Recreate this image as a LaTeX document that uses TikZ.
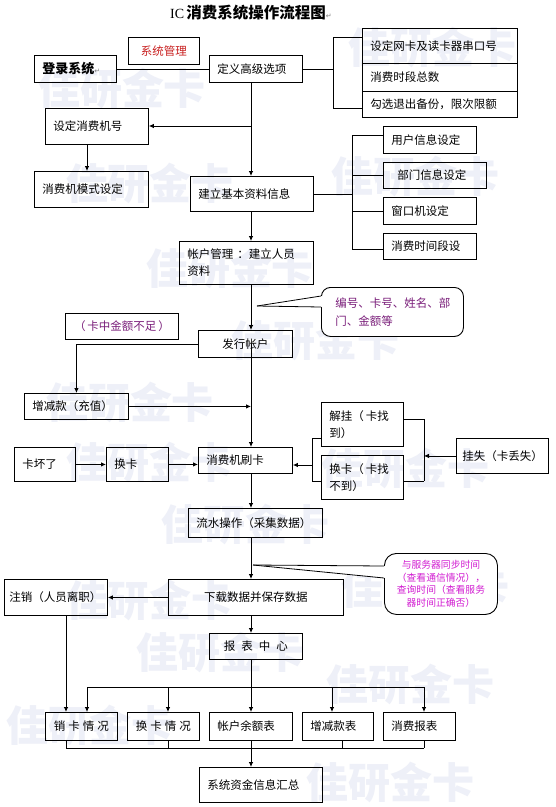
\documentclass[tikz,border=0pt]{standalone}
\usepackage{fontspec}
\setmainfont{Noto Sans CJK SC}
\newfontfamily\tnr{Liberation Serif}
\newfontfamily\djv{DejaVu Sans}
\usetikzlibrary{arrows.meta,calc}
\definecolor{wmc}{HTML}{EEF0F8}
\definecolor{purp}{HTML}{7A1E7A}
\definecolor{mag}{HTML}{D21ED2}
\definecolor{redt}{HTML}{C81E1E}
\tikzset{
 bx/.style={draw, line width=0.9pt, rectangle, inner ysep=0pt, anchor=north west, font=\fontsize{11.5}{17}\selectfont},
 arr/.style={line width=0.8pt, -{Latex[length=5pt,width=4.5pt]}},
 ln/.style={line width=0.8pt},
 wm/.style={text=wmc, font=\fontsize{42}{44}\selectfont\bfseries},
 callout/.style={draw, line width=0.9pt, fill=white, anchor=north west, inner ysep=0pt},
}
\newcommand\mybox[7][left]{%
 \pgfmathsetmacro\bw{#5-#3-16}\pgfmathsetmacro\bh{#6-#4}%
 \node[bx, align=#1, inner xsep=8pt, text width=\bw pt, minimum height=\bh pt] (#2) at (#3,#4) {#7};}
\begin{document}
\begin{tikzpicture}[x=1pt,y=-1pt]
\useasboundingbox[fill=white] (0,0) rectangle (555,807);
% watermarks
\node[wm] (wm1) at (122,88) {佳研金卡};
\node[wm] (wm2) at (432,47) {佳研金卡};
\node[wm] (wm3) at (150,183) {佳研金卡};
\node[wm] (wm4) at (415,176) {佳研金卡};
\node[wm] (wm5) at (230,268) {佳研金卡};
\node[wm] (wm6) at (315,340) {佳研金卡};
\node[wm] (wm7) at (130,402) {佳研金卡};
\node[wm] (wm8) at (150,462) {佳研金卡};
\node[wm] (wm9) at (405,468) {佳研金卡};
\node[wm] (wm10) at (245,524) {佳研金卡};
\node[wm] (wm11) at (150,600) {佳研金卡};
\node[wm] (wm12) at (425,588) {佳研金卡};
\node[wm] (wm13) at (220,652) {佳研金卡};
\node[wm] (wm14) at (410,684) {佳研金卡};
\node[wm] (wm15) at (90,725) {佳研金卡};
\node[wm] (wm16) at (390,782) {佳研金卡};
% title
\node[anchor=west, inner sep=0] (title) at (170,13) {{\tnr\fontsize{14}{16}\selectfont IC} {\fontsize{15.5}{17}\selectfont\bfseries 消费系统操作流程图}{\djv\fontsize{7}{8}\selectfont\color{gray}↵}};
% boxes
\mybox[center]{xtgl}{128}{37}{199}{64}{\color{redt}系统管理}
\mybox{dl}{34}{55}{116}{82}{\fontsize{13}{15}\selectfont\bfseries 登录系统{\djv\fontsize{7}{8}\selectfont\mdseries\color{gray}↵}}
\mybox{dy}{209}{55}{302}{82}{定义高级选项}
\mybox{wk}{362}{28}{517}{63}{设定网卡及读卡器串口号}
\mybox{sd}{362}{63}{517}{91}{消费时段总数}
\mybox{gx}{362}{91}{517}{117}{勾选退出备份，限次限额}
\mybox{jh}{45}{108}{148}{144}{设定消费机号}
\mybox{ms}{34}{171}{148}{207}{消费机模式设定}
\mybox{jl}{190}{176}{313}{211}{建立基本资料信息}
\mybox{zh}{179}{241}{313}{284}{帐户管理 ：建立人员\\资料}
\mybox{yh}{383}{126}{476}{153}{用户信息设定}
\mybox{bm}{383}{162}{486}{188}{\hspace*{6pt}部门信息设定}
\mybox{ck}{383}{197}{476}{224}{窗口机设定}
\mybox{sj}{383}{233}{476}{259}{消费时间段设}
\mybox[center]{bz}{65}{313}{178}{339}{\color{purp}\mbox{（\,卡中金额不足\,）}}
\mybox[center]{fx}{198}{330}{292}{357}{发行帐户}
\mybox{zj}{24}{393}{128}{419}{增减款（充值）}
\mybox{kh}{14}{447}{75}{481}{卡坏了}
\mybox{hk}{106}{447}{168}{481}{换卡}
\mybox{sk}{198}{447}{292}{473}{消费机刷卡}
\mybox{ls}{188}{508}{322}{537}{流水操作（采集数据）}
\mybox{jg}{321}{402}{403}{446}{\mbox{解挂（\,卡找}\\到）}
\mybox{hkb}{321}{455}{403}{499}{\mbox{换卡（\,卡找}\\不到）}
\mybox{gs}{456}{438}{548}{473}{\hspace*{-2pt}挂失（卡丢失）}
\mybox[center]{xz}{168}{579}{343}{615}{下载数据并保存数据}
\mybox{zx}{4}{579}{107}{615}{\hspace*{-3pt}注销（人员离职）}
\mybox[center]{bb}{209}{633}{302}{659}{报\hspace{6pt}表\hspace{6pt}中\hspace{6pt}心}
\mybox[center]{xk}{45}{712}{117}{740}{销\hspace{3pt}卡\hspace{3pt}情\hspace{3pt}况}
\mybox[center]{hkq}{127}{712}{199}{740}{换\hspace{3pt}卡\hspace{3pt}情\hspace{3pt}况}
\mybox{ye}{209}{712}{292}{740}{帐户余额表}
\mybox{zjb}{302}{712}{373}{740}{增减款表}
\mybox{xfb}{383}{712}{455}{740}{消费报表}
\mybox{hz}{199}{767}{322}{802}{系统资金信息汇总}
% callouts
\node[callout, rounded corners=9pt, align=left, inner xsep=14pt, text width=114pt, minimum height=49pt, text=purp, font=\fontsize{11.5}{18}\selectfont] (cb1) at (321,287) {编号、卡号、姓名、部\\门、金额等};
\coordinate (t1) at (257,306);
\coordinate (c1a) at (321,296);
\coordinate (c1b) at (321,307);
\fill[white] (t1) -- ($(c1a)+(1.2,0)$) -- ($(c1b)+(1.2,0)$) -- cycle;
\draw[ln] (t1) -- (c1a);
\draw[ln] (t1) -- (c1b);
\node[callout, rounded corners=12pt, align=center, inner xsep=6.5pt, text width=100pt, minimum height=61pt, text=mag, font=\fontsize{9.8}{12.5}\selectfont] (cb2) at (384,553) {与服务器同步时间\\（查看通信情况），\\查询时间（查看服务\\器时间正确否）};
\coordinate (t2) at (253,565);
\coordinate (c2a) at (384,566);
\coordinate (c2b) at (384,578);
\fill[white] (t2) -- ($(c2a)+(1.2,0)$) -- ($(c2b)+(1.2,0)$) -- cycle;
\draw[ln] (t2) -- (c2a);
\draw[ln] (t2) -- (c2b);
% connectors
\coordinate (sp) at (251,0);
\draw[ln] (dl.east) -- (dl.east -| dy.west);
\draw[arr] (dy.south -| sp) -- (jl.north -| sp);
\coordinate (j1) at (251,126);
\draw[arr] (j1) -- (j1 -| jh.east);
\coordinate (jx) at (87,0);
\draw[arr] (jh.south -| jx) -- (ms.north -| jx);
\coordinate (b1t) at (333,37);
\coordinate (b1b) at (333,108);
\draw[ln] (dy.east) -- (dy.east -| b1t);
\draw[ln] (b1t) -- (b1b);
\draw[ln] (b1t) -- (b1t -| wk.west);
\draw[ln] (b1b) -- (b1b -| gx.west);
\draw[arr] (jl.south -| sp) -- (zh.north -| sp);
\coordinate (b2t) at (352,135);
\coordinate (b2b) at (352,249);
\draw[ln] (jl.east) -- (jl.east -| b2t);
\draw[ln] (b2t) -- (b2b);
\draw[ln] (b2t) -- (b2t -| yh.west);
\draw[ln] (bm.west -| b2t) -- (bm.west);
\draw[ln] (ck.west -| b2t) -- (ck.west);
\draw[ln] (b2b) -- (b2b -| sj.west);
\draw[arr] (zh.south -| sp) -- (fx.north -| sp);
\draw[arr] (fx.center -| sp) -- (sk.north -| sp);
\draw[arr] (fx.west) -| (zj.north);
\draw[arr] (zj.east) -- (zj.east -| sp);
\draw[arr] (kh.east) -- (hk.west);
\draw[arr] (hk.east) -- (hk.east -| sk.west);
\draw[arr] (sk.south -| sp) -- (ls.north -| sp);
\coordinate (l1t) at (312,438);
\coordinate (l1b) at (312,481);
\coordinate (l1m) at (312,465);
\draw[ln] (l1t) -- (l1b);
\draw[ln] (l1t) -- (l1t -| jg.west);
\draw[ln] (l1b) -- (l1b -| hkb.west);
\draw[arr] (l1m) -- (l1m -| sk.east);
\coordinate (r1t) at (424,419);
\coordinate (r1b) at (424,481);
\draw[ln] (r1t) -- (r1b);
\draw[ln] (r1t -| jg.east) -- (r1t);
\draw[ln] (r1b -| hkb.east) -- (r1b);
\draw[arr] (gs.west) -- (gs.west -| r1t);
\draw[arr] (ls.south -| sp) -- (xz.north -| sp);
\draw[arr] (xz.west) -- (zx.east);
\draw[arr] (xz.south -| sp) -- (bb.north -| sp);
\draw[arr] (bb.south -| sp) -- (ye.north -| sp);
\coordinate (bl) at (87,687);
\coordinate (bx2) at (168,687);
\coordinate (bx4) at (332,687);
\coordinate (br) at (424,687);
\draw[ln] (bl) -- (br);
\draw[arr] (bl) -- (bl |- xk.north);
\draw[arr] (bx2) -- (bx2 |- hkq.north);
\draw[arr] (bx4) -- (bx4 |- zjb.north);
\draw[arr] (br) -- (br |- xfb.north);
\coordinate (zxl) at (66,0);
\draw[arr] (zx.south -| zxl) -- (xk.north -| zxl);
\coordinate (cl) at (66,748);
\coordinate (c2) at (168,748);
\coordinate (c4) at (342,748);
\coordinate (cr) at (424,748);
\draw[ln] (cl) -- (cr);
\draw[ln] (xk.south -| cl) -- (cl);
\draw[ln] (hkq.south -| c2) -- (c2);
\draw[ln] (zjb.south -| c4) -- (c4);
\draw[ln] (xfb.south -| cr) -- (cr);
\draw[arr] (ye.south -| sp) -- (hz.north -| sp);
\end{tikzpicture}
\end{document}
